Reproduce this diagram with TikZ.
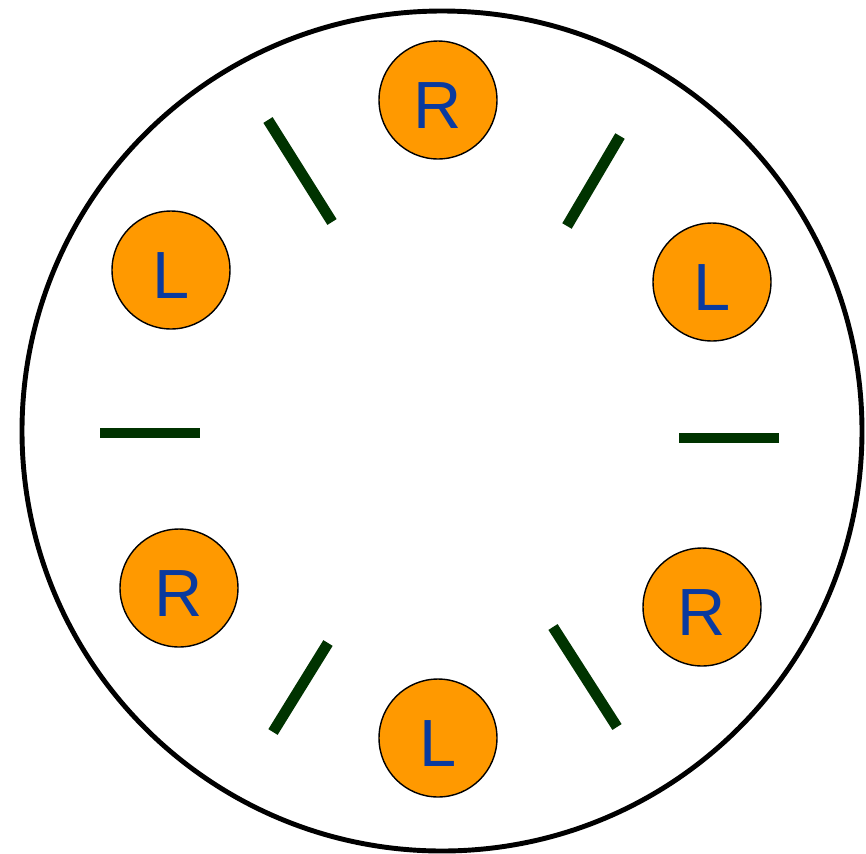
\documentclass[tikz,border=0pt]{standalone}
\usepackage{fontspec}
\newfontfamily\arial{Liberation Sans}
\definecolor{Naranja}{HTML}{FF9900}
\definecolor{Verde}{HTML}{003300}
\definecolor{Azul}{HTML}{0A3A9E}

\begin{document}
\begin{tikzpicture}[
    x=0.02cm,y=-0.02cm,
    every node/.style={font=\arial\fontsize{38}{42}\selectfont,text=Azul},
    seat/.style={circle,draw=black,line width=0.8pt,fill=Naranja,minimum size=2.36cm,inner sep=0pt,text height=1.12cm,text depth=0pt},
    bar/.style={draw=Verde,line width=6.2pt}
  ]
    \useasboundingbox (0,0) rectangle (866,853);
    \draw[line width=2.8pt] (442,431) circle[radius=420];
    \node[seat] (r1) at (438,100) {R};
    \node[seat] (l1) at (712,282) {L};
    \node[seat] (r2) at (702,607) {R};
    \node[seat] (l2) at (438,738) {L};
    \node[seat] (r3) at (179,588) {R};
    \node[seat] (l3) at (171,270) {L};
    \foreach \xa/\ya/\xb/\yb in {268/120/332/222, 620/136/567/226, 100/433/200/433,
        679/438/779/438, 328/643/273/732, 553/627/617/727}
      \draw[bar] (\xa,\ya) -- (\xb,\yb);
  \end{tikzpicture}
\end{document}
